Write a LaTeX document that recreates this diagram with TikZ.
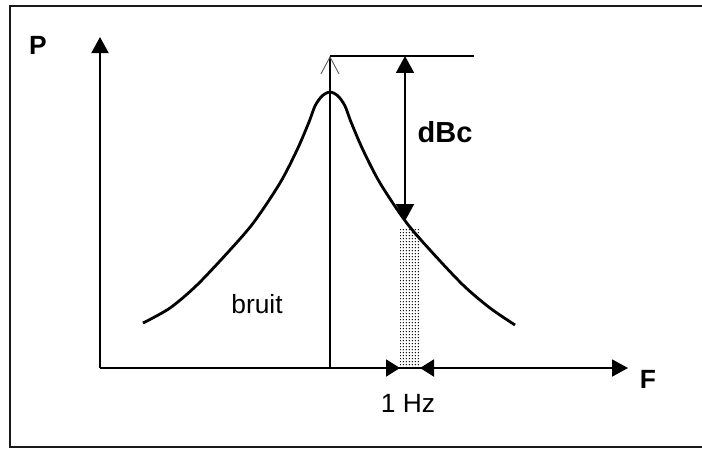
\documentclass[tikz,border=0pt]{standalone}
\usepackage{fontspec}
\setmainfont{Liberation Sans}
\usetikzlibrary{positioning, arrows.meta, patterns.meta}
\tikzdeclarepattern{
    name=finedots,
    type=uncolored,
    bottom left={(0pt,0pt)},
    top right={(1.6pt,1.6pt)},
    tile size={(1.6pt,1.6pt)},
    code={\fill (0.8pt,0.8pt) circle (0.42pt);}
}
\tikzset{
    axis/.style={
        -{Triangle[length=0.32cm, width=0.34cm]},
        line width=1.1pt, color=black,
    },
    thinline/.style={
        line width=1.1pt, color=black,
    },
    dbcarrow/.style={
        {Triangle[length=0.34cm, width=0.36cm]}-{Triangle[length=0.34cm, width=0.36cm]},
        line width=1.1pt, color=black,
    },
    hzarrow/.style={
        -{Triangle[length=0.28cm, width=0.34cm]},
        line width=1.1pt, color=black,
    },
    spectrum/.style={
        line width=1.6pt, color=black, line join=round,
    },
    axislabel/.style={
        font=\fontsize{15}{18}\selectfont\bfseries,
    },
    textlabel/.style={
        font=\fontsize{15}{18}\selectfont,
    },
}

\begin{document}
\begin{tikzpicture}[x=0.02cm, y=-0.02cm]
\useasboundingbox (0,0) rectangle (702,450);

% =============================================
% Frame (open to the right)
% =============================================
\draw[line width=1.1pt, color=black!90] (702,6) -- (10,6) -- (10,447) -- (702,447);

% =============================================
% Axes
% =============================================
\coordinate (origin) at (100,368);
\coordinate (ytop) at (100,37);
\coordinate (xend) at (628,368);

\draw[axis] (origin) -- (ytop);
\draw[axis] (origin) -- (xend);

\node[axislabel] (plabel) at (38,45) {P};
\node[axislabel] (flabel) at (648,379) {F};

% =============================================
% Carrier line and reference level
% =============================================
\coordinate (carrierfoot) at (330,368);
\coordinate (carriertop) at (330,56);
\coordinate (refend) at (474,56);

\draw[thinline, -{Straight Barb[length=0.34cm, width=0.36cm, line width=0.5pt, color=black!65]}]
    (carrierfoot) -- (carriertop);
\draw[thinline] (carriertop) -- (refend);

% =============================================
% Noise band (1 Hz)
% =============================================
\coordinate (bandtl) at (400,228);
\coordinate (bandbr) at (420,368);
\fill[pattern=finedots, pattern color=black] (bandtl) rectangle (bandbr);

% =============================================
% Spectrum
% =============================================
\draw[spectrum] plot[smooth] coordinates {
    (143,323) (170,308) (197,285) (230,250) (254,222) (280,183)
    (297,150) (309,122) (315,106) (322,96) (330,92) (338,96)
    (345,106) (351,122) (363,150) (380,183) (406,222) (430,250)
    (463,285) (490,308) (515,325)};

% =============================================
% dBc arrow
% =============================================
\coordinate (dbctop) at (405,56);
\coordinate (dbcbot) at (405,221);
\draw[dbcarrow] (dbctop) -- (dbcbot);
\node[axislabel, font=\fontsize{16.5}{19}\selectfont\bfseries] (dbclabel) at (445,132) {dBc};

% =============================================
% 1 Hz arrows
% =============================================
\coordinate (hzleft) at (385,368);
\coordinate (hzright) at (434,368);
\draw[hzarrow] (hzleft) -- (bandtl |- bandbr);
\draw[hzarrow] (hzright) -- (bandbr);
\node[textlabel] (hzlabel) at (408,403) {1 Hz};

\node[textlabel] (bruitlabel) at (257,304) {bruit};

\end{tikzpicture}
\end{document}
